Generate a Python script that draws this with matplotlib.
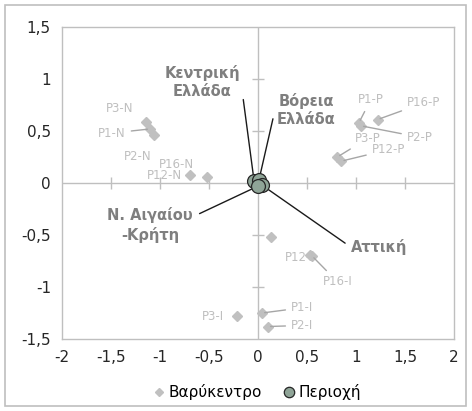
import numpy as np
import matplotlib.pyplot as plt
from matplotlib.patches import Rectangle

# centroids (Βαρύκεντρο)
cent_labels = ['P3-N', 'P1-N', 'P2-N', 'P16-N', 'P12-N',
               'P1-P', 'P2-P', 'P16-P', 'P3-P', 'P12-P',
               '', 'P12-I', 'P16-I', 'P1-I', 'P2-I', 'P3-I']
cent_x = [-1.14, -1.10, -1.06, -0.69, -0.52,
          1.03, 1.05, 1.22, 0.81, 0.85,
          0.13, 0.53, 0.55, 0.04, 0.10, -0.21]
cent_y = [0.59, 0.52, 0.46, 0.08, 0.06,
          0.58, 0.55, 0.61, 0.25, 0.21,
          -0.52, -0.69, -0.70, -1.25, -1.38, -1.28]

# regions (Περιοχή)
reg_labels = ['Κεντρική\nΕλλάδα', 'Βόρεια\nΕλλάδα', 'Αττική', 'Ν. Αιγαίου\n-Κρήτη']
reg_x = [-0.04, 0.01, 0.04, 0.0]
reg_y = [0.02, 0.03, -0.02, -0.03]

ticks = [-2, -1.5, -1, -0.5, 0, 0.5, 1, 1.5, 2]
yticks = [-1.5, -1, -0.5, 0, 0.5, 1, 1.5]

# label layout: text position, draw leader?
cent_text = {
    'P3-N': (-1.41, 0.72, False), 'P1-N': (-1.49, 0.48, True),
    'P2-N': (-1.23, 0.25, False), 'P16-N': (-0.83, 0.18, False),
    'P12-N': (-0.95, 0.07, False),
    'P1-P': (1.15, 0.80, True), 'P2-P': (1.65, 0.44, True),
    'P16-P': (1.69, 0.77, True), 'P3-P': (1.12, 0.43, True),
    'P12-P': (1.33, 0.32, True),
    'P12-I': (0.43, -0.72, False), 'P16-I': (0.81, -0.95, True),
    'P1-I': (0.45, -1.20, True), 'P2-I': (0.45, -1.37, True),
    'P3-I': (-0.46, -1.28, False),
}
reg_text = [(-0.57, 0.97, (1.0, 0.72)), (0.49, 0.70, (0.0, 0.72)),
            (1.24, -0.62, (0.0, 0.5)), (-1.10, -0.40, (1.0, 0.72))]

def fmt(v):
    s = ('%g' % v).replace('.', ',')
    return s

fig = plt.figure(figsize=(4.72, 4.11), dpi=100)
ax = fig.add_axes([62 / 472, 1 - 339 / 411, 392 / 472, 312 / 411])
fig.patches.append(Rectangle((5 / 472, 5 / 411), 461 / 472, 401 / 411,
                             transform=fig.transFigure, fill=False,
                             edgecolor='#bfbfbf', lw=1.2))

ax.set_xlim(-2, 2)
ax.set_ylim(-1.5, 1.5)
for s in ax.spines.values():
    s.set_color('#bfbfbf')
    s.set_linewidth(1)
ax.set_xticks(ticks)
ax.set_xticklabels([fmt(t) for t in ticks])
ax.set_yticks(yticks)
ax.set_yticklabels([fmt(t) for t in yticks])
ax.tick_params(length=0, labelsize=11, labelcolor='#262626', pad=8)

# zero axes with crossing tick marks
ax.axhline(0, color='#bfbfbf', lw=1, zorder=1)
ax.axvline(0, color='#bfbfbf', lw=1, zorder=1)
ax.plot(ticks[1:-1], np.zeros(len(ticks) - 2), ls='none', marker='|',
        ms=8, mew=1, color='#bfbfbf', zorder=1)
ax.plot(np.zeros(len(yticks) - 2), yticks[1:-1], ls='none', marker='_',
        ms=8, mew=1, color='#bfbfbf', zorder=1)

ax.plot(cent_x, cent_y, ls='none', marker='D', ms=5.5, color='#c0c0c0',
        label='Βαρύκεντρο', zorder=3)
ax.plot(reg_x, reg_y, ls='none', marker='o', ms=10, mfc='#8fa497',
        mec='#262626', mew=0.9, label='Περιοχή', zorder=5)

for lab, x, y in zip(cent_labels, cent_x, cent_y):
    if lab not in cent_text:
        continue
    tx, ty, lead = cent_text[lab]
    if lead:
        ax.annotate(lab, (x, y), xytext=(tx, ty), ha='center', va='center',
                    fontsize=8.5, color='#bfbfbf', zorder=4,
                    arrowprops=dict(arrowstyle='-', color='#a6a6a6', lw=1,
                                    shrinkA=2, shrinkB=2))
    else:
        ax.text(tx, ty, lab, ha='center', va='center', fontsize=8.5,
                color='#bfbfbf', zorder=4)

for lab, x, y, (tx, ty, rp) in zip(reg_labels, reg_x, reg_y, reg_text):
    ax.annotate(lab, (x, y), xytext=(tx, ty), ha='center', va='center',
                fontsize=10.5, fontweight='bold', color='#7f7f7f',
                linespacing=1.3, zorder=4,
                arrowprops=dict(arrowstyle='-', color='#1a1a1a', lw=1,
                                shrinkA=3, shrinkB=0, relpos=rp))

ax.legend(loc='upper center', bbox_to_anchor=(0.5, -0.1), ncol=2,
          frameon=False, fontsize=11, handlelength=0.6, handletextpad=0.3,
          columnspacing=1.5, markerscale=0.75)

fig.savefig('out.png', dpi=100)
